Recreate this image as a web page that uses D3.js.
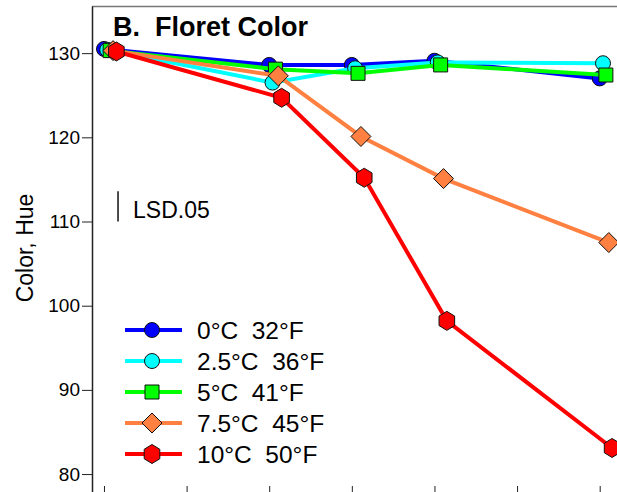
<!DOCTYPE html>
<html>
<head>
<meta charset="utf-8">
<script src="https://cdn.jsdelivr.net/npm/d3@7"></script>
<style>
  html, body { margin: 0; padding: 0; background: #fff; }
  #svg-container { width: 617px; height: 492px; }
  svg { display: block; font-family: Arial, "Liberation Sans", sans-serif; }
</style>
</head>
<body>
<div id="svg-container"></div>
<script>
////////////////////////////////////////////////////////////////////
////////////////////////////  Data  ////////////////////////////////
const days = [0, 4, 6, 8, 12];
const labels = ["0°C  32°F", "2.5°C  36°F", "5°C  41°F", "7.5°C  45°F", "10°C  50°F"];
const hue0 = [130.5, 128.6, 128.6, 129.1, 127.0];
const hue25 = [130.4, 126.5, 128.2, 128.9, 128.8];
const hue5 = [130.3, 128.1, 127.6, 128.6, 127.4];
const hue75 = [130.3, 127.3, 120.1, 115.1, 107.5];
const hue10 = [130.2, 124.7, 115.2, 98.2, 83.1];
const dodge = [0, 0.08, 0.15, 0.22, 0.3]; // small x shift per series (days)
const xTicks = [0, 2, 4, 6, 8, 10, 12];
const yTicks = [80, 90, 100, 110, 120, 130];
const lsd = 3.6; // LSD.05 bar length
const lsdAt = { day: 0.34, hue: 110 };

////////////////////////////////////////////////////////////////////
////////////////////////////  Init  ///////////////////////////////
const width = 617;
const height = 492;
const svg = d3.select("#svg-container").append("svg")
  .attr("width", width).attr("height", height);

const plot = { left: 92, top: 6, right: 641, bottom: 493 };

const xScale = d3.scaleLinear().domain([-0.29, 13]).range([plot.left, plot.right]);
const yScale = d3.scaleLinear().domain([77.75, 135.6]).range([plot.bottom, plot.top]);

const series = [
  { name: labels[0], values: hue0, line: "#0000ff", fill: "#0000ff", shape: "circle" },
  { name: labels[1], values: hue25, line: "#00ffff", fill: "#00ffff", shape: "circle" },
  { name: labels[2], values: hue5, line: "#00ff00", fill: "#00ff00", shape: "square" },
  { name: labels[3], values: hue75, line: "#ff8040", fill: "#ff8040", shape: "diamond" },
  { name: labels[4], values: hue10, line: "#ff0000", fill: "#ff0000", shape: "hexagon" },
];

// marker shapes
const shapePath = {
  square: "M-7,-7H7V7H-7Z",
  diamond: "M0,-10L10,0L0,10L-10,0Z",
  hexagon: "M0,-9.5L7.8,-4.75L7.8,4.75L0,9.5L-7.8,4.75L-7.8,-4.75Z",
};
const drawMarker = (g, shape, fill) => {
  if (shape === "circle") {
    return g.append("circle").attr("r", 7.5)
      .attr("fill", fill).attr("stroke", "#111").attr("stroke-width", 1);
  }
  return g.append("path").attr("d", shapePath[shape])
    .attr("fill", fill).attr("stroke", "#111").attr("stroke-width", 1);
};

////////////////////////////////////////////////////////////////////
////////////////////////////  Axes  ////////////////////////////////
// frame top
svg.append("line")
  .attr("x1", plot.left).attr("x2", width)
  .attr("y1", plot.top + 0.5).attr("y2", plot.top + 0.5)
  .attr("stroke", "#777").attr("stroke-width", 1.5);

const yAxis = d3.axisLeft(yScale).tickValues(yTicks).tickSize(10).tickPadding(2).tickSizeOuter(0);
svg.append("g")
  .attr("class", "y-axis")
  .attr("transform", `translate(${plot.left},0)`)
  .call(yAxis)
  .call((g) => g.select(".domain").attr("stroke", "#222").attr("stroke-width", 1.5))
  .call((g) => g.selectAll(".tick line").attr("stroke", "#222"))
  .call((g) => g.selectAll(".tick text")
    .attr("font-size", "19px").attr("fill", "#000")
    .attr("font-family", "Arial, 'Liberation Sans', sans-serif"));

const xAxis = d3.axisBottom(xScale).tickValues(xTicks).tickSize(-7).tickFormat("").tickSizeOuter(0);
svg.append("g")
  .attr("class", "x-axis")
  .attr("transform", `translate(0,${plot.bottom})`)
  .call(xAxis)
  .call((g) => g.select(".domain").attr("stroke", "#222"))
  .call((g) => g.selectAll(".tick line").attr("stroke", "#222"));

// y label
svg.append("text")
  .attr("transform", `translate(33,248) rotate(-90)`)
  .attr("text-anchor", "middle")
  .attr("font-size", "23px")
  .text("Color, Hue");

// title
svg.append("text")
  .attr("x", 113).attr("y", 36)
  .attr("font-size", "27px").attr("font-weight", "bold")
  .style("white-space", "pre")
  .text("B.  Floret Color");

////////////////////////////////////////////////////////////////////
////////////////////////////  Series  //////////////////////////////
const line = d3.line().x((d) => xScale(d.x)).y((d) => yScale(d.y));

series.forEach((s, i) => {
  const pts = s.values.map((v, j) => ({ x: days[j] + dodge[i], y: v }));
  svg.append("path")
    .datum(pts)
    .attr("fill", "none")
    .attr("stroke", s.line)
    .attr("stroke-width", 4)
    .attr("d", line);

  pts.forEach((p) => {
    const g = svg.append("g").attr("transform", `translate(${xScale(p.x)},${yScale(p.y)})`);
    drawMarker(g, s.shape, s.fill);
  });
});

////////////////////////////////////////////////////////////////////
////////////////////////////  LSD  /////////////////////////////////
svg.append("line")
  .attr("x1", xScale(lsdAt.day)).attr("x2", xScale(lsdAt.day))
  .attr("y1", yScale(lsdAt.hue)).attr("y2", yScale(lsdAt.hue + lsd))
  .attr("stroke", "#111").attr("stroke-width", 1.5);

svg.append("text")
  .attr("x", xScale(lsdAt.day) + 15).attr("y", 218)
  .attr("font-size", "23px")
  .text("LSD.05");

////////////////////////////////////////////////////////////////////
////////////////////////////  Legend  //////////////////////////////
const legend = svg.append("g").attr("transform", "translate(125,330)");
series.forEach((s, i) => {
  const row = legend.append("g").attr("transform", `translate(0,${i * 31})`);
  row.append("line")
    .attr("x1", 0).attr("x2", 57)
    .attr("stroke", s.line).attr("stroke-width", 4);
  const m = row.append("g").attr("transform", "translate(27,0)");
  drawMarker(m, s.shape, s.fill);
  row.append("text")
    .attr("x", 72).attr("y", 9)
    .attr("font-size", "24.5px")
    .style("white-space", "pre")
    .text(s.name);
});
</script>
</body>
</html>
